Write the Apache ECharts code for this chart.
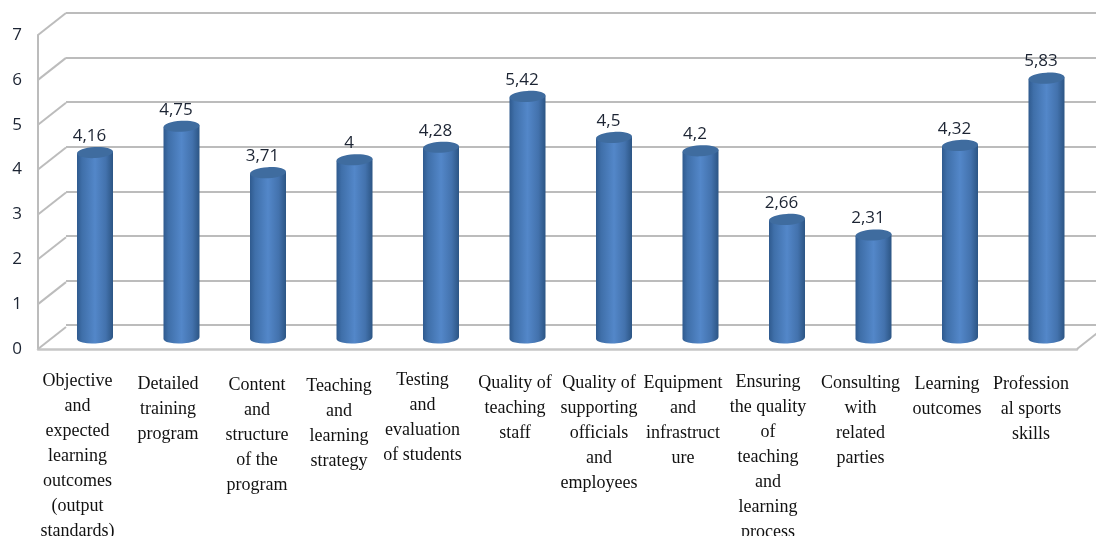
<!DOCTYPE html>
<html>
<head>
<meta charset="utf-8">
<style>
  html, body { margin: 0; padding: 0; background: #fff; }
  #chart { width: 1096px; height: 536px; }
</style>
<script src="https://cdn.jsdelivr.net/npm/echarts@6/dist/echarts.min.js"></script>
</head>
<body>
<div id="chart"></div>
<script>
const categories = [
  'Objective\nand\nexpected\nlearning\noutcomes\n(output\nstandards)',
  'Detailed\ntraining\nprogram',
  'Content\nand\nstructure\nof the\nprogram',
  'Teaching\nand\nlearning\nstrategy',
  'Testing\nand\nevaluation\nof students',
  'Quality of\nteaching\nstaff',
  'Quality of\nsupporting\nofficials\nand\nemployees',
  'Equipment\nand\ninfrastruct\nure',
  'Ensuring\nthe quality\nof\nteaching\nand\nlearning\nprocess',
  'Consulting\nwith\nrelated\nparties',
  'Learning\noutcomes',
  'Profession\nal sports\nskills'
]
const values = [4.16, 4.75, 3.71, 4, 4.28, 5.42, 4.5, 4.2, 2.66, 2.31, 4.32, 5.83]
const valueTicks = [0, 1, 2, 3, 4, 5, 6, 7]

// the category text boxes sit loosely under the bars, each one placed by hand
const labelX = [77.5, 168, 257, 339, 422.5, 515, 599, 683, 768, 860.5, 947, 1031]
const labelY = [369, 372, 373, 374, 368, 371, 371, 371, 370, 371, 372, 372]

const numFont = '"Open Sans", sans-serif'
const depthX = 28
const depthY = -22
const wallColor = '#bcbcbc'

const chart = echarts.init(document.getElementById('chart'))

function renderBar(params, api) {
  const idx = api.value(0)
  const top = api.coord([idx, api.value(1)])
  const base = api.coord([idx, 0])
  const halfW = 18
  const ry = 5.5
  const tilt = 1 // the cylinders lean a little, left side lower than right
  const cx = top[0]
  const body = new echarts.graphic.LinearGradient(0, 0, 1, 0, [
    { offset: 0, color: '#2f5a8e' },
    { offset: 0.14, color: '#3f6fa9' },
    { offset: 0.5, color: '#5387c9' },
    { offset: 0.8, color: '#4372ad' },
    { offset: 1, color: '#2c5584' }
  ])
  return {
    type: 'group',
    children: [
      {
        type: 'path',
        shape: {
          pathData: 'M' + (cx - halfW) + ' ' + (top[1] + tilt) +
            ' L' + (cx - halfW) + ' ' + (base[1] + tilt) +
            ' A' + halfW + ' ' + ry + ' -3 0 0 ' + (cx + halfW) + ' ' + (base[1] - tilt) +
            ' L' + (cx + halfW) + ' ' + (top[1] - tilt) + ' Z'
        },
        style: { fill: body }
      },
      {
        type: 'ellipse',
        shape: { cx: cx, cy: top[1], rx: halfW, ry: ry },
        rotation: 0.055,
        originX: cx,
        originY: top[1],
        style: { fill: '#3f6c9f' }
      },
      {
        type: 'text',
        style: {
          x: cx - 5.5,
          y: top[1] - 16.5,
          text: String(values[idx]).replace('.', ','),
          align: 'center',
          verticalAlign: 'middle',
          font: '17px ' + numFont,
          fill: '#1c2433'
        }
      }
    ]
  }
}

// slanted strokes joining the front axis to the back wall
function renderDepth(params, api) {
  const p = api.coord([api.value(0), api.value(1)])
  return {
    type: 'line',
    shape: { x1: p[0], y1: p[1], x2: p[0] + depthX, y2: p[1] + depthY },
    style: { stroke: wallColor, lineWidth: 2 }
  }
}

const option = {
  animation: false,
  backgroundColor: '#fff',
  grid: [
    { left: 66, right: 0, top: 13, height: 312 },
    { left: 38, right: 19, top: 35, height: 314 },
    { left: 51.75, right: 6.25, top: 26, height: 312 }
  ],
  xAxis: [
    { gridIndex: 0, type: 'value', min: 0, max: 1, show: false },
    {
      gridIndex: 1, type: 'value', min: 0, max: 1,
      axisLine: { show: true, onZero: false, lineStyle: { color: '#c6c6c6', width: 2.5 } },
      axisTick: { show: false }, axisLabel: { show: false }, splitLine: { show: false }
    },
    {
      gridIndex: 2, type: 'category', data: categories.map((c, i) => i),
      show: false
    }
  ],
  yAxis: [
    {
      gridIndex: 0, type: 'value', min: 0, max: 7, interval: 1,
      axisLine: { show: false }, axisTick: { show: false }, axisLabel: { show: false },
      splitLine: { show: true, lineStyle: { color: wallColor, width: 2 } }
    },
    {
      gridIndex: 1, type: 'value', min: 0, max: 7, interval: 1,
      axisLine: { show: true, lineStyle: { color: '#bcbcbc', width: 2 } },
      axisTick: { show: false }, splitLine: { show: false },
      axisLabel: { color: '#1c2433', fontFamily: numFont, fontSize: 17, margin: 16, padding: [4, 0, 0, 0] }
    },
    { gridIndex: 2, type: 'value', min: 0, max: 7, show: false }
  ],
  series: [
    {
      type: 'custom',
      xAxisIndex: 1,
      yAxisIndex: 1,
      renderItem: renderDepth,
      silent: true,
      data: valueTicks.map(t => [0, t]).concat([[1, 0]])
    },
    {
      type: 'custom',
      xAxisIndex: 2,
      yAxisIndex: 2,
      renderItem: renderBar,
      silent: true,
      z: 5,
      data: values.map((v, i) => [i, v])
    }
  ],
  graphic: categories.map((c, i) => ({
    type: 'text',
    x: labelX[i],
    y: labelY[i],
    silent: true,
    style: {
      text: c,
      align: 'center',
      font: '18px "Liberation Serif", serif',
      lineHeight: 25,
      fill: '#111'
    }
  }))
}

chart.setOption(option)
</script>
</body>
</html>
